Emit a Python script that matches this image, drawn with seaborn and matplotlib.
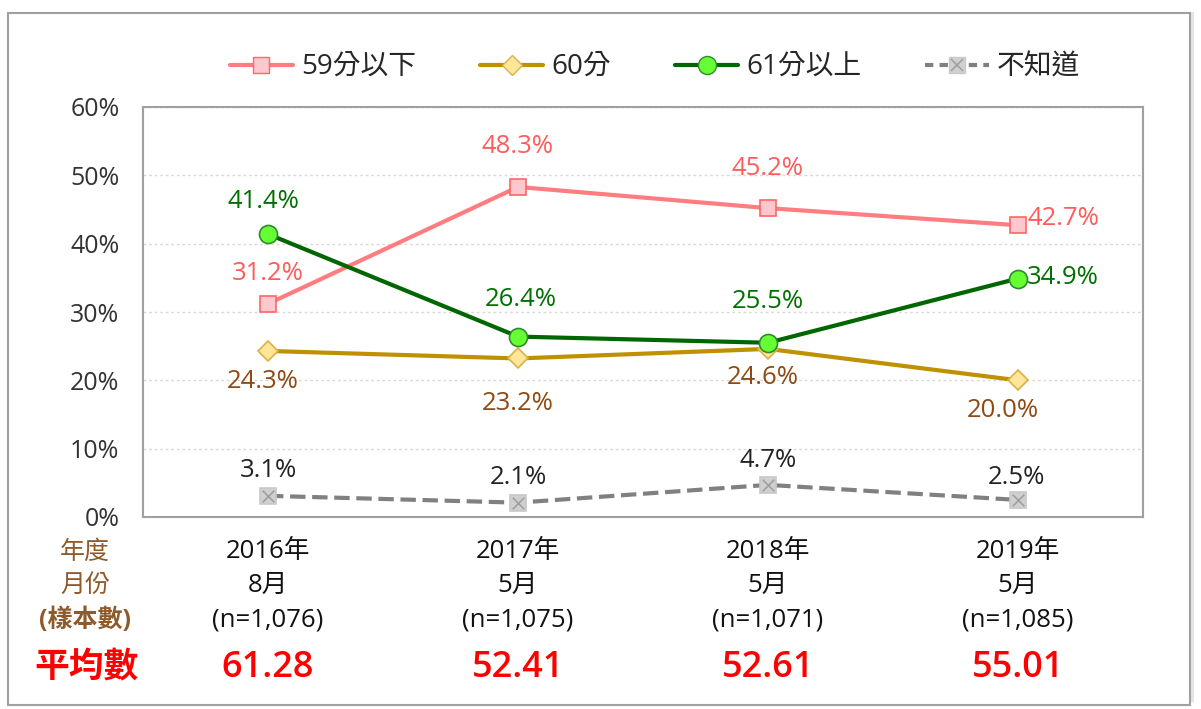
import numpy as np
import pandas as pd
import matplotlib.pyplot as plt
import seaborn as sns
from matplotlib.lines import Line2D
from matplotlib.legend_handler import HandlerTuple
from matplotlib.patches import Rectangle
import matplotlib.transforms as mtransforms

years = ["2016年", "2017年", "2018年", "2019年"]
months = ["8月", "5月", "5月", "5月"]
samples = ["(n=1,076)", "(n=1,075)", "(n=1,071)", "(n=1,085)"]
means = ["61.28", "52.41", "52.61", "55.01"]

below59 = [31.2, 48.3, 45.2, 42.7]
score60 = [24.3, 23.2, 24.6, 20.0]
above61 = [41.4, 26.4, 25.5, 34.9]
unknown = [3.1, 2.1, 4.7, 2.5]

series_names = ["59分以下", "60分", "61分以上", "不知道"]

if __name__ == "__main__":
    sns.set_style("white")
    plt.rcParams['font.family'] = ['Open Sans', 'Noto Sans CJK TC', 'DejaVu Sans']

    df = pd.DataFrame({"x": np.arange(len(years)),
                       "59分以下": below59, "60分": score60,
                       "61分以上": above61, "不知道": unknown})

    fig = plt.figure(figsize=(12.01, 7.09), dpi=100)
    ax = fig.add_axes([143 / 1201, 1 - 517 / 709, 1000 / 1201, 410 / 709])

    # styles: line colour, marker, face, edge, size, label colour, dashes
    styles = {
        "59分以下": dict(color="#FF7C80", marker="s", mfc="#FFC7CE", mec="#FF6666", ms=12, tc="#FF5B5B", ls="-"),
        "60分": dict(color="#BF9000", marker="D", mfc="#FFE699", mec="#D9B24A", ms=10, tc="#8E4A12", ls="-"),
        "61分以上": dict(color="#006600", marker="o", mfc="#66FF33", mec="#2E8B2E", ms=13, tc="#007000", ls="-"),
        "不知道": dict(color="#808080", marker="s", mfc="#D0D0D0", mec="#C8C8C8", ms=11, tc="#222222", ls="--"),
    }

    for name in series_names:
        st = styles[name]
        sns.lineplot(data=df, x="x", y=name, ax=ax, color=st["color"], linewidth=3,
                     linestyle=st["ls"], marker=st["marker"], markersize=st["ms"],
                     markerfacecolor=st["mfc"], markeredgecolor=st["mec"], markeredgewidth=1.2,
                     zorder=3)
    sns.scatterplot(data=df, x="x", y="不知道", ax=ax, marker="x", s=70, color="#A0A0A0",
                    linewidth=1.2, zorder=4)

    # label offsets in pixels (dx, dy), converted to points
    offsets = {
        "59分以下": [(0, 30), (0, 40), (0, 40), (45, 7)],
        "60分": [(-5, -31), (0, -45), (-5, -29), (-15, -30)],
        "61分以上": [(-5, 33), (3, 37), (0, 41), (45, 1)],
        "不知道": [(0, 25), (0, 25), (0, 24), (-2, 22)],
    }
    for name in series_names:
        for i, v in enumerate(df[name]):
            dx, dy = offsets[name][i]
            ax.annotate(f"{v:.1f}%", (i, v), xytext=(dx * 0.72, dy * 0.72),
                        textcoords="offset points", ha="center", va="center",
                        fontsize=18.5, color=styles[name]["tc"], zorder=5)

    ax.set_xlim(-0.5, 3.5)
    ax.set_ylim(0, 60)
    ax.set_yticks(range(0, 61, 10))
    ax.set_yticklabels([f"{t}%" for t in range(0, 61, 10)], fontsize=18, color="#333333")
    ax.set_xticks([])
    ax.set_xticks([0.5, 1.5, 2.5], minor=True)
    ax.tick_params(axis="x", which="minor", direction="in", length=8, color="#A0A0A0", width=1.2)
    ax.tick_params(axis="y", length=0, pad=17)
    ax.set_xlabel("")
    ax.set_ylabel("")
    ax.yaxis.grid(True, color="#D9D9D9", linestyle=(0, (2, 2)), linewidth=1)
    for sp in ax.spines.values():
        sp.set_color("#A0A0A0")
        sp.set_linewidth(1.5)

    # table below the axis
    trans = mtransforms.blended_transform_factory(ax.transData, fig.transFigure)
    rows_y = [552, 585, 620]
    for i in range(len(years)):
        for txt, yp in zip([years[i], months[i], samples[i]], rows_y):
            ax.text(i, 1 - yp / 709, txt, transform=trans, ha="center", va="center",
                    fontsize=18.5, color="#111111")
        ax.text(i, 1 - 668 / 709, means[i], transform=trans, ha="center", va="center",
                fontsize=26, fontweight="semibold", color="#FF0000")
    for txt, yp, fw in zip(["年度", "月份", "(樣本數)"], rows_y, ["normal", "normal", "bold"]):
        fig.text(85 / 1201, 1 - yp / 709, txt, ha="center", va="center", fontsize=18,
                 fontweight=fw, color="#8E5A2A")
    fig.text(87 / 1201, 1 - 668 / 709, "平均數", ha="center", va="center", fontsize=25,
             fontweight="bold", color="#FF0000")

    # legend
    handles = []
    for name in series_names[:3]:
        st = styles[name]
        handles.append(Line2D([], [], color=st["color"], lw=3, marker=st["marker"], ms=st["ms"],
                              mfc=st["mfc"], mec=st["mec"]))
    st = styles["不知道"]
    handles.append((Line2D([], [], color=st["color"], lw=3, ls=(0, (2, 1.5)), marker="s", ms=st["ms"],
                           mfc=st["mfc"], mec=st["mec"]),
                    Line2D([], [], ls="none", marker="x", ms=8, mec="#A0A0A0", mew=1.2)))
    fig.legend(handles, series_names, loc="center", bbox_to_anchor=(655 / 1201, 1 - 68 / 709),
               ncol=4, frameon=False, fontsize=20, handlelength=2.27, handletextpad=0.3,
               columnspacing=2.3, handler_map={tuple: HandlerTuple(ndivide=1)})

    # outer frame with shadow
    fig.patches.append(Rectangle((12 / 1201, 1 - 709 / 709 + 7 / 709), 1182 / 1201, 690 / 709,
                                 transform=fig.transFigure, fill=True, facecolor="#E4E4E4",
                                 edgecolor="none", zorder=-2))
    fig.patches.append(Rectangle((8 / 1201, 1 - 705 / 709), 1182 / 1201, 692 / 709,
                                 transform=fig.transFigure, facecolor="white",
                                 edgecolor="#A0A0A0", linewidth=1.5, zorder=-1))

    fig.savefig("out.png", dpi=100)
    plt.close()
